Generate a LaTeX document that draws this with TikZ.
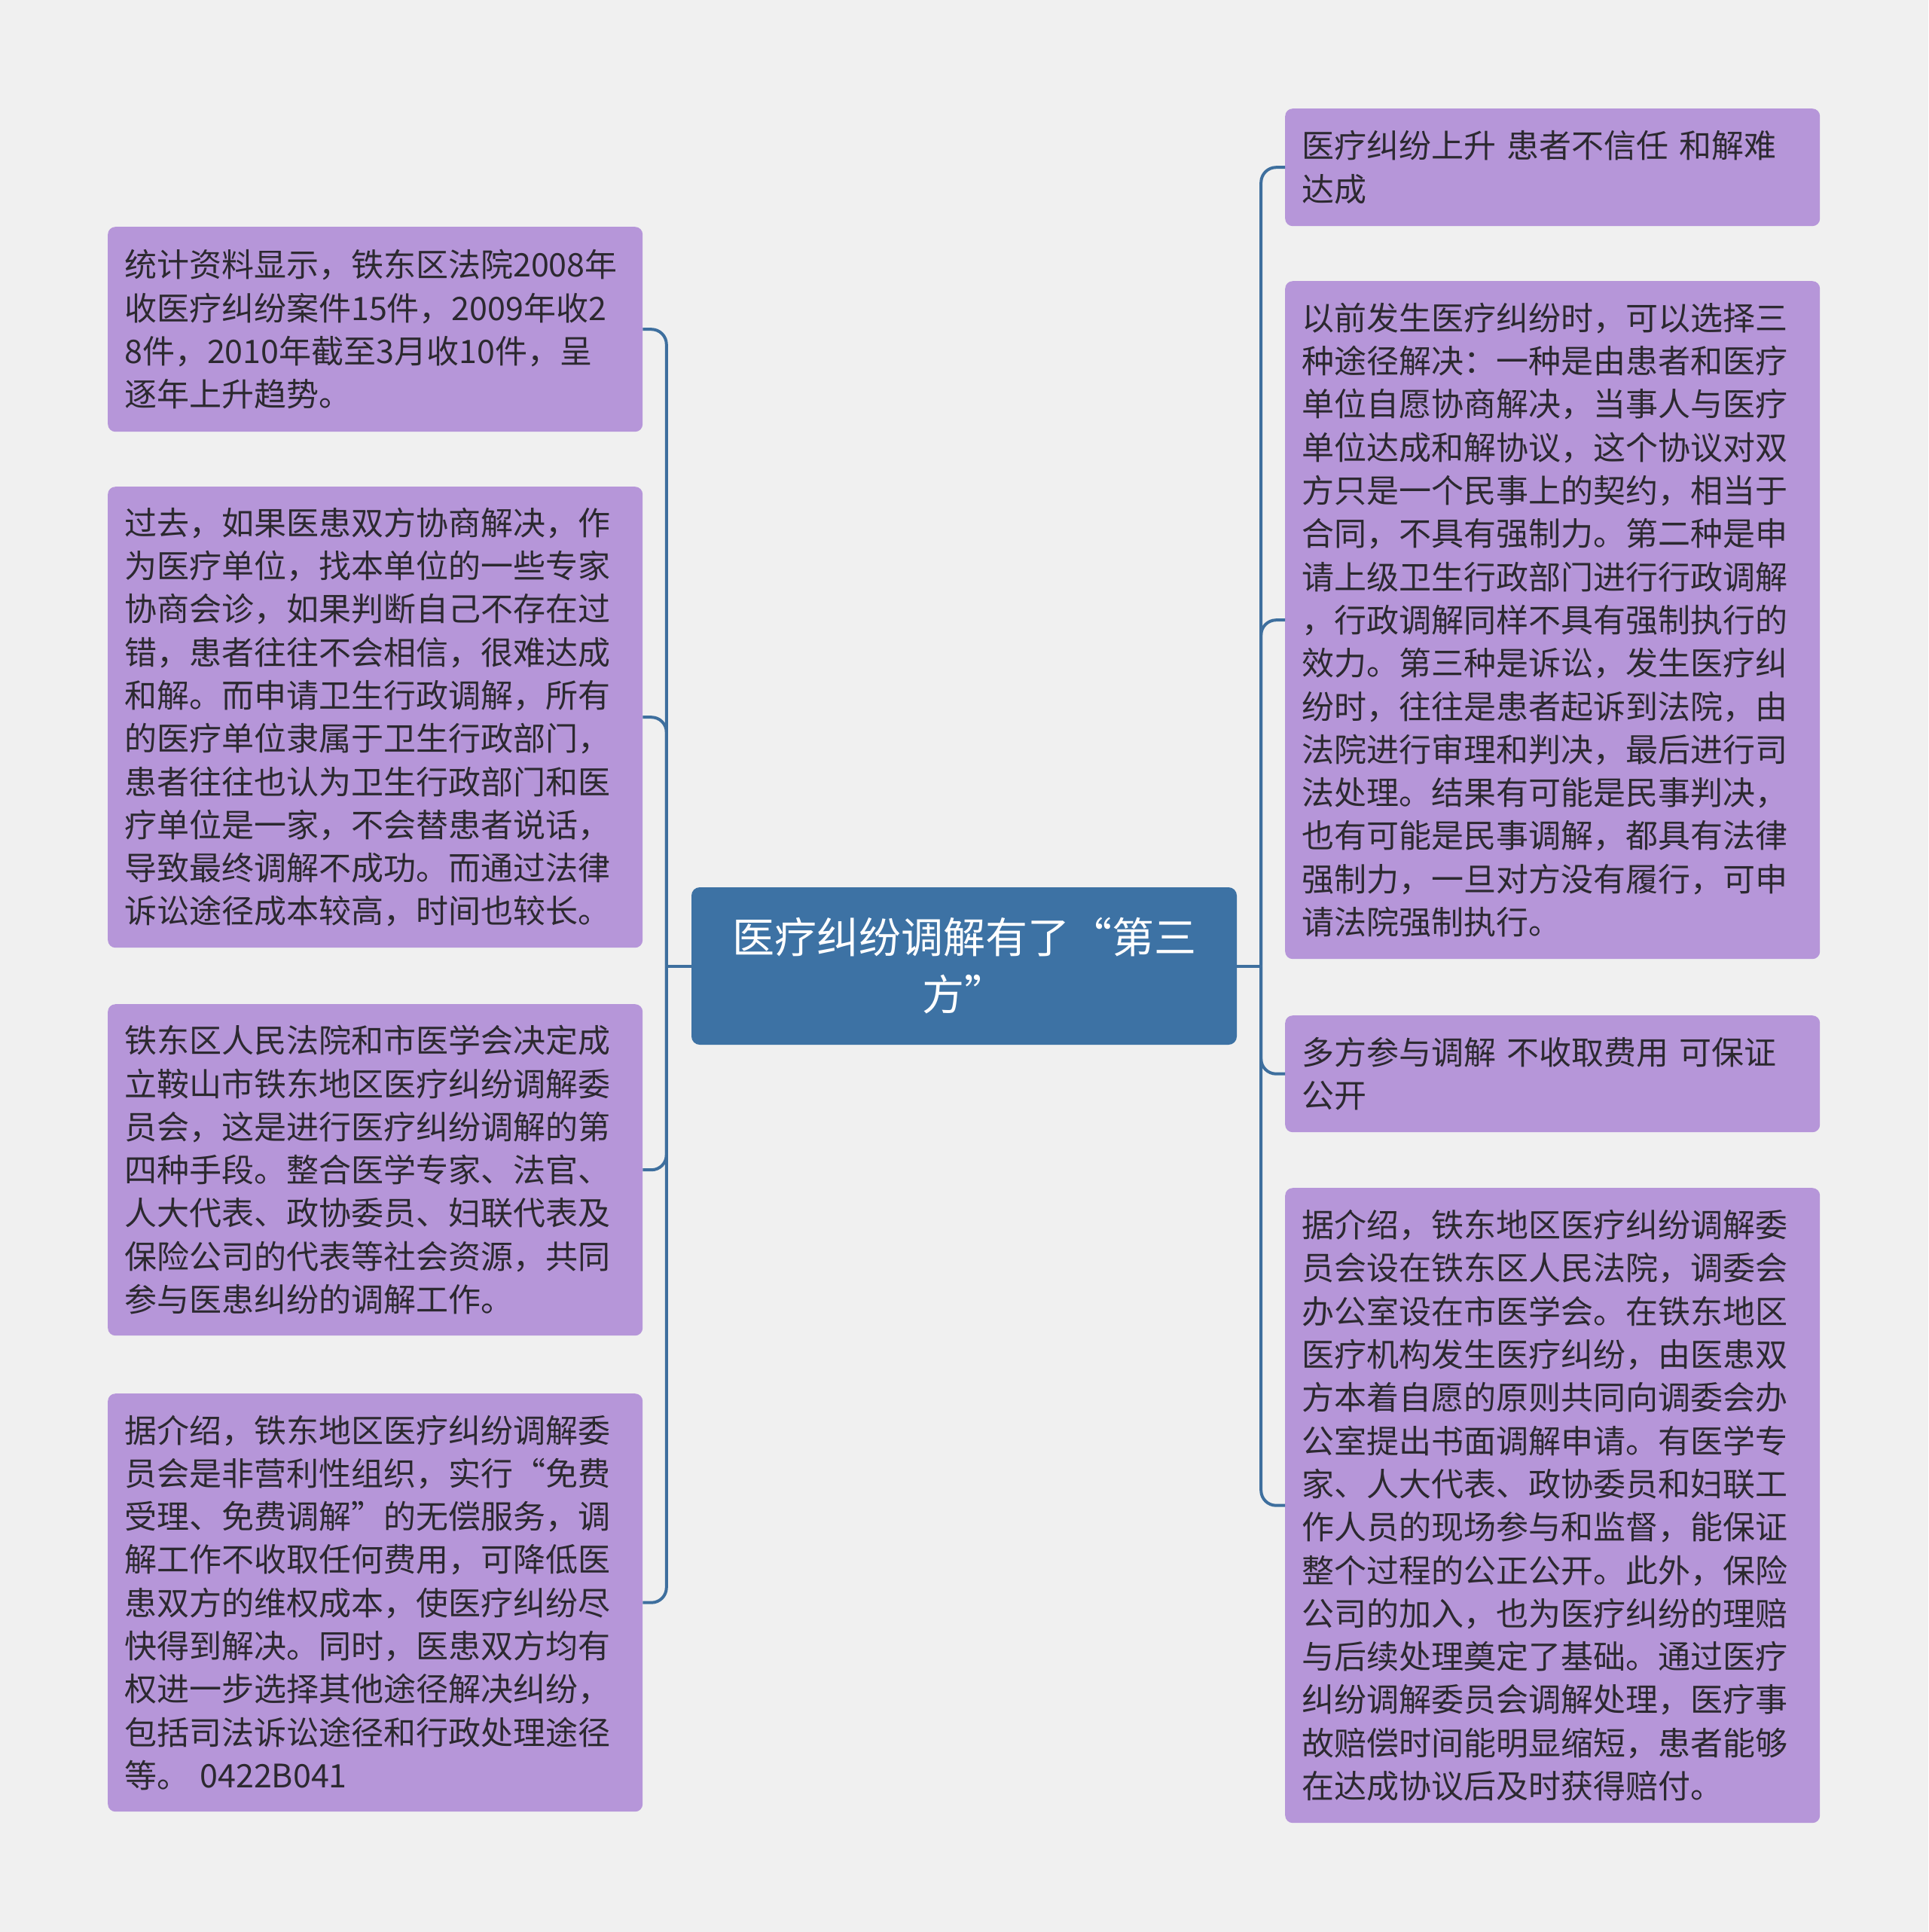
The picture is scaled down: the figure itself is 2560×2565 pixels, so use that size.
\documentclass[tikz,border=0pt]{standalone}
\usepackage{fontspec}
\setmainfont{Noto Sans CJK SC}
\definecolor{bgc}{HTML}{F0F0F0}
\definecolor{leaffill}{HTML}{B696D9}
\definecolor{rootfill}{HTML}{3D72A4}
\definecolor{linec}{HTML}{3E6F9E}
\definecolor{txt}{HTML}{2C2930}
\begin{document}
\begin{tikzpicture}[x=1pt,y=-1pt,
  leaf/.style={rectangle, rounded corners=10pt, fill=leaffill, text=txt,
    font=\fontsize{43}{57.3}\selectfont, align=left, text width=666pt,
    inner xsep=22pt, inner ysep=0pt, anchor=north west},
  root/.style={rectangle, rounded corners=11pt, fill=rootfill, text=white,
    font=\fontsize{56}{76}\selectfont, align=center, text width=680pt,
    minimum width=724pt, minimum height=209pt, inner xsep=22pt, inner ysep=0pt},
  conn/.style={draw=linec, line width=4pt, rounded corners=20pt},
  stem/.style={draw=linec, line width=4pt}]
\fill[bgc] (0,0) rectangle (2560,2565);
\useasboundingbox (0,0) rectangle (2560,2565);

\node[root] (c) at (1280,1282.5) {医疗纠纷调解有了“第三\\方”};

\node[leaf, minimum height=272pt] (l1) at (143,301) {统计资料显示，铁东区法院2008年\\收医疗纠纷案件15件，2009年收2\\8件，2010年截至3月收10件，呈\\逐年上升趋势。};
\node[leaf, minimum height=612pt] (l2) at (143,646) {过去，如果医患双方协商解决，作\\为医疗单位，找本单位的一些专家\\协商会诊，如果判断自己不存在过\\错，患者往往不会相信，很难达成\\和解。而申请卫生行政调解，所有\\的医疗单位隶属于卫生行政部门，\\患者往往也认为卫生行政部门和医\\疗单位是一家，不会替患者说话，\\导致最终调解不成功。而通过法律\\诉讼途径成本较高，时间也较长。};
\node[leaf, minimum height=440pt] (l3) at (143,1333) {铁东区人民法院和市医学会决定成\\立鞍山市铁东地区医疗纠纷调解委\\员会，这是进行医疗纠纷调解的第\\四种手段。整合医学专家、法官、\\人大代表、政协委员、妇联代表及\\保险公司的代表等社会资源，共同\\参与医患纠纷的调解工作。};
\node[leaf, minimum height=555pt] (l4) at (143,1850) {据介绍，铁东地区医疗纠纷调解委\\员会是非营利性组织，实行“免费\\受理、免费调解”的无偿服务，调\\解工作不收取任何费用，可降低医\\患双方的维权成本，使医疗纠纷尽\\快得到解决。同时，医患双方均有\\权进一步选择其他途径解决纠纷，\\包括司法诉讼途径和行政处理途径\\等。 0422B041};

\node[leaf, minimum height=156pt] (r1) at (1706,144) {医疗纠纷上升 患者不信任 和解难\\达成};
\node[leaf, minimum height=900pt] (r2) at (1706,373) {以前发生医疗纠纷时，可以选择三\\种途径解决：一种是由患者和医疗\\单位自愿协商解决，当事人与医疗\\单位达成和解协议，这个协议对双\\方只是一个民事上的契约，相当于\\合同，不具有强制力。第二种是申\\请上级卫生行政部门进行行政调解\\，行政调解同样不具有强制执行的\\效力。第三种是诉讼，发生医疗纠\\纷时，往往是患者起诉到法院，由\\法院进行审理和判决，最后进行司\\法处理。结果有可能是民事判决，\\也有可能是民事调解，都具有法律\\强制力，一旦对方没有履行，可申\\请法院强制执行。};
\node[leaf, minimum height=155pt] (r3) at (1706,1348) {多方参与调解 不收取费用 可保证\\公开};
\node[leaf, minimum height=843pt] (r4) at (1706,1577) {据介绍，铁东地区医疗纠纷调解委\\员会设在铁东区人民法院，调委会\\办公室设在市医学会。在铁东地区\\医疗机构发生医疗纠纷，由医患双\\方本着自愿的原则共同向调委会办\\公室提出书面调解申请。有医学专\\家、人大代表、政协委员和妇联工\\作人员的现场参与和监督，能保证\\整个过程的公正公开。此外，保险\\公司的加入，也为医疗纠纷的理赔\\与后续处理奠定了基础。通过医疗\\纠纷调解委员会调解处理，医疗事\\故赔偿时间能明显缩短，患者能够\\在达成协议后及时获得赔付。};

\coordinate (lt) at ([xshift=-33pt]c.west);
\coordinate (rt) at ([xshift=32pt]c.east);
\draw[stem] (c.west) -- (lt);
\draw[stem] (c.east) -- (rt);
\foreach \n in {l1,l2,l3,l4}{
  \draw[conn] (lt) |- (\n.east);
}
\foreach \n in {r1,r2,r3,r4}{
  \draw[conn] (rt) |- (\n.west);
}
\end{tikzpicture}
\end{document}
